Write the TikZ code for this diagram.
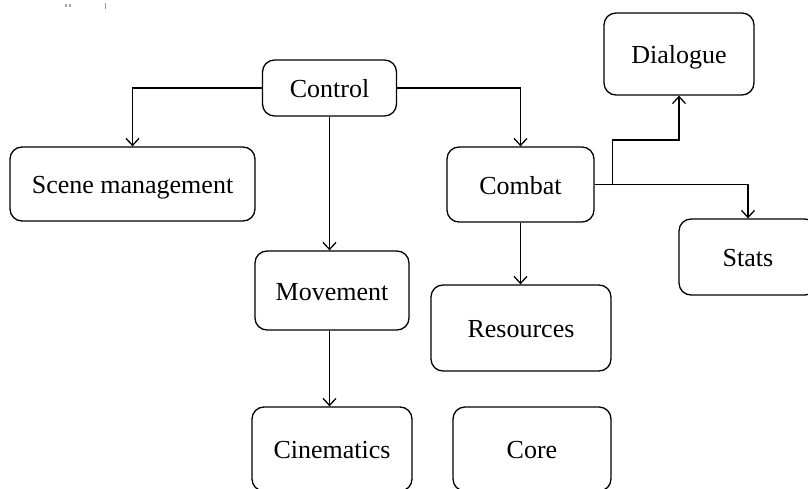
\documentclass[tikz,border=0pt]{standalone}
\usepackage{fontspec}
\setmainfont{Liberation Serif}
\usetikzlibrary{arrows.meta}
\begin{document}
\begin{tikzpicture}[x=1pt,y=-1pt,
  box/.style={draw, line width=1.3pt, rounded corners=12pt, inner sep=0pt,
    text height=19pt, text depth=0pt,
    font=\fontsize{26}{30}\selectfont},
  conn/.style={line width=1.3pt, -{Straight Barb[length=7pt,width=13pt,line width=1.3pt]}}]
\useasboundingbox (0,0) rectangle (808,489);
\clip (0,0) rectangle (808,489);
% stray scan marks
\fill[gray!70] (64.5,4.5) rectangle (66.5,7);
\fill[gray!70] (68.5,4.5) rectangle (70.5,7);
\fill[gray!80] (104.5,3) rectangle (106,9);
% nodes
\node[box, minimum width=134pt, minimum height=56pt] (ctrl) at (329.5,88) {Control};
\node[box, minimum width=245pt, minimum height=74pt] (scene) at (132.5,184) {Scene management};
\node[box, minimum width=147pt, minimum height=75pt] (combat) at (520.5,184.5) {Combat};
\node[box, minimum width=150pt, minimum height=82pt] (dialog) at (679,54) {Dialogue};
\node[box, minimum width=138pt, minimum height=76pt] (stats) at (748,257) {Stats};
\node[box, minimum width=154pt, minimum height=79pt] (move) at (332,290.5) {Movement};
\node[box, minimum width=180pt, minimum height=86pt] (res) at (521,328) {Resources};
\node[box, minimum width=160pt, minimum height=84pt] (cine) at (332,449) {Cinematics};
\node[box, minimum width=158pt, minimum height=84pt] (core) at (532,449) {Core};
% connectors
\draw[conn] (ctrl.west) -| (scene.north);
\draw[conn] (ctrl.east) -| (combat.north);
\draw[conn] (ctrl.south) -- (ctrl.south |- move.north);
\draw[conn] (ctrl.south |- move.south) -- (ctrl.south |- cine.north);
\draw[conn] (combat.south) -- (combat.south |- res.north);
\draw[conn] (combat.east) -| (stats.north);
\coordinate (br) at ([xshift=18pt]combat.east);
\coordinate (bend) at ([xshift=18pt,yshift=44.5pt]combat.east);
\draw[conn] (br) -- (bend) -| (dialog.south);
\end{tikzpicture}
\end{document}
